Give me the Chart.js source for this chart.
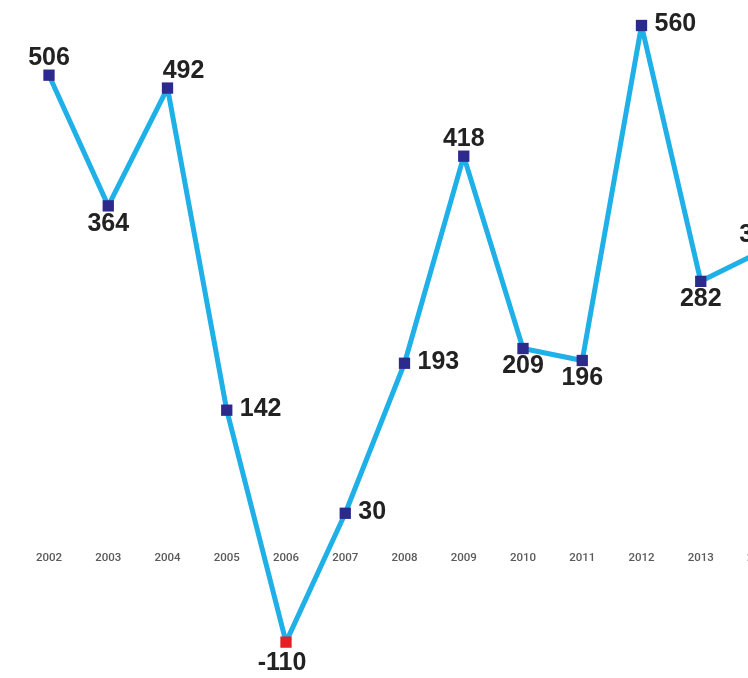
<!DOCTYPE html>
<html>
<head>
<meta charset="utf-8">
<script src="https://cdn.jsdelivr.net/npm/chart.js@4/dist/chart.umd.min.js"></script>
<style>
  html, body { margin: 0; padding: 0; background: #fff; overflow: hidden; width: 748px; height: 678px; }
  #wrap { position: absolute; left: 0; top: 0; width: 800px; height: 678px; }
</style>
</head>
<body>
<div id="wrap"><canvas id="myChart" width="800" height="678"></canvas></div>
<script>
const years = ['2002', '2003', '2004', '2005', '2006', '2007', '2008', '2009', '2010', '2011', '2012', '2013', '2014'];
const values = [506, 364, 492, 142, -110, 30, 193, 418, 209, 196, 560, 282, 314];
// where each value label sits relative to its point
const labelSide = ['top', 'bottom', 'topright', 'right', 'bottom', 'right', 'right', 'top', 'bottom', 'bottom', 'right', 'bottom', 'top'];

const navy = '#2d2a8e';
const red = '#e41f26';

const valueLabels = {
  id: 'valueLabels',
  afterDatasetsDraw( chart ) {
    const ctx = chart.ctx;
    const meta = chart.getDatasetMeta( 0 );
    ctx.save();
    ctx.font = 'bold 25px Arial, "Liberation Sans", sans-serif';
    ctx.fillStyle = '#222';
    meta.data.forEach( ( pt, i ) => {
      const side = labelSide[i];
      let x = pt.x, y = pt.y;
      ctx.textBaseline = 'middle';
      if ( side === 'top' ) {
        ctx.textAlign = 'center'; y -= 17;
      } else if ( side === 'bottom' ) {
        ctx.textAlign = 'center'; y += values[i] < 0 ? 21 : 18;
        if ( values[i] < 0 ) x -= 4;
      } else if ( side === 'topright' ) {
        ctx.textAlign = 'center'; x += 16; y -= 17;
      } else {
        ctx.textAlign = 'left'; x += 13; y -= 1;
      }
      ctx.fillText( String( values[i] ), x, y );
    } );
    ctx.restore();
  }
};

new Chart( document.getElementById( 'myChart' ), {
  type: 'line',
  data: {
    labels: years,
    datasets: [{
      data: values,
      borderColor: '#1eb0e6',
      borderWidth: 5,
      borderJoinStyle: 'round',
      tension: 0,
      pointStyle: 'rect',
      pointRadius: 8,
      pointHoverRadius: 8,
      pointBorderWidth: 0,
      pointBackgroundColor: values.map( ( v, i ) => i === 4 ? red : navy ),
      clip: false,
    }],
  },
  options: {
    responsive: false,
    animation: false,
    devicePixelRatio: 1,
    layout: {
      padding: { left: 49, right: 40, top: 0, bottom: 0 },
    },
    scales: {
      x: {
        position: { y: 0 },
        offset: false,
        grid: { display: false },
        border: { display: false },
        ticks: {
          color: '#5a5a5a',
          padding: 2,
          maxRotation: 0,
          autoSkip: false,
          font: { family: 'Roboto, sans-serif', size: 11.5, weight: '500' },
        },
      },
      y: {
        display: false,
        min: -140.3,
        max: 579,
      },
    },
    plugins: {
      legend: { display: false },
      tooltip: { enabled: false },
    },
  },
  plugins: [valueLabels],
} );
</script>
</body>
</html>
